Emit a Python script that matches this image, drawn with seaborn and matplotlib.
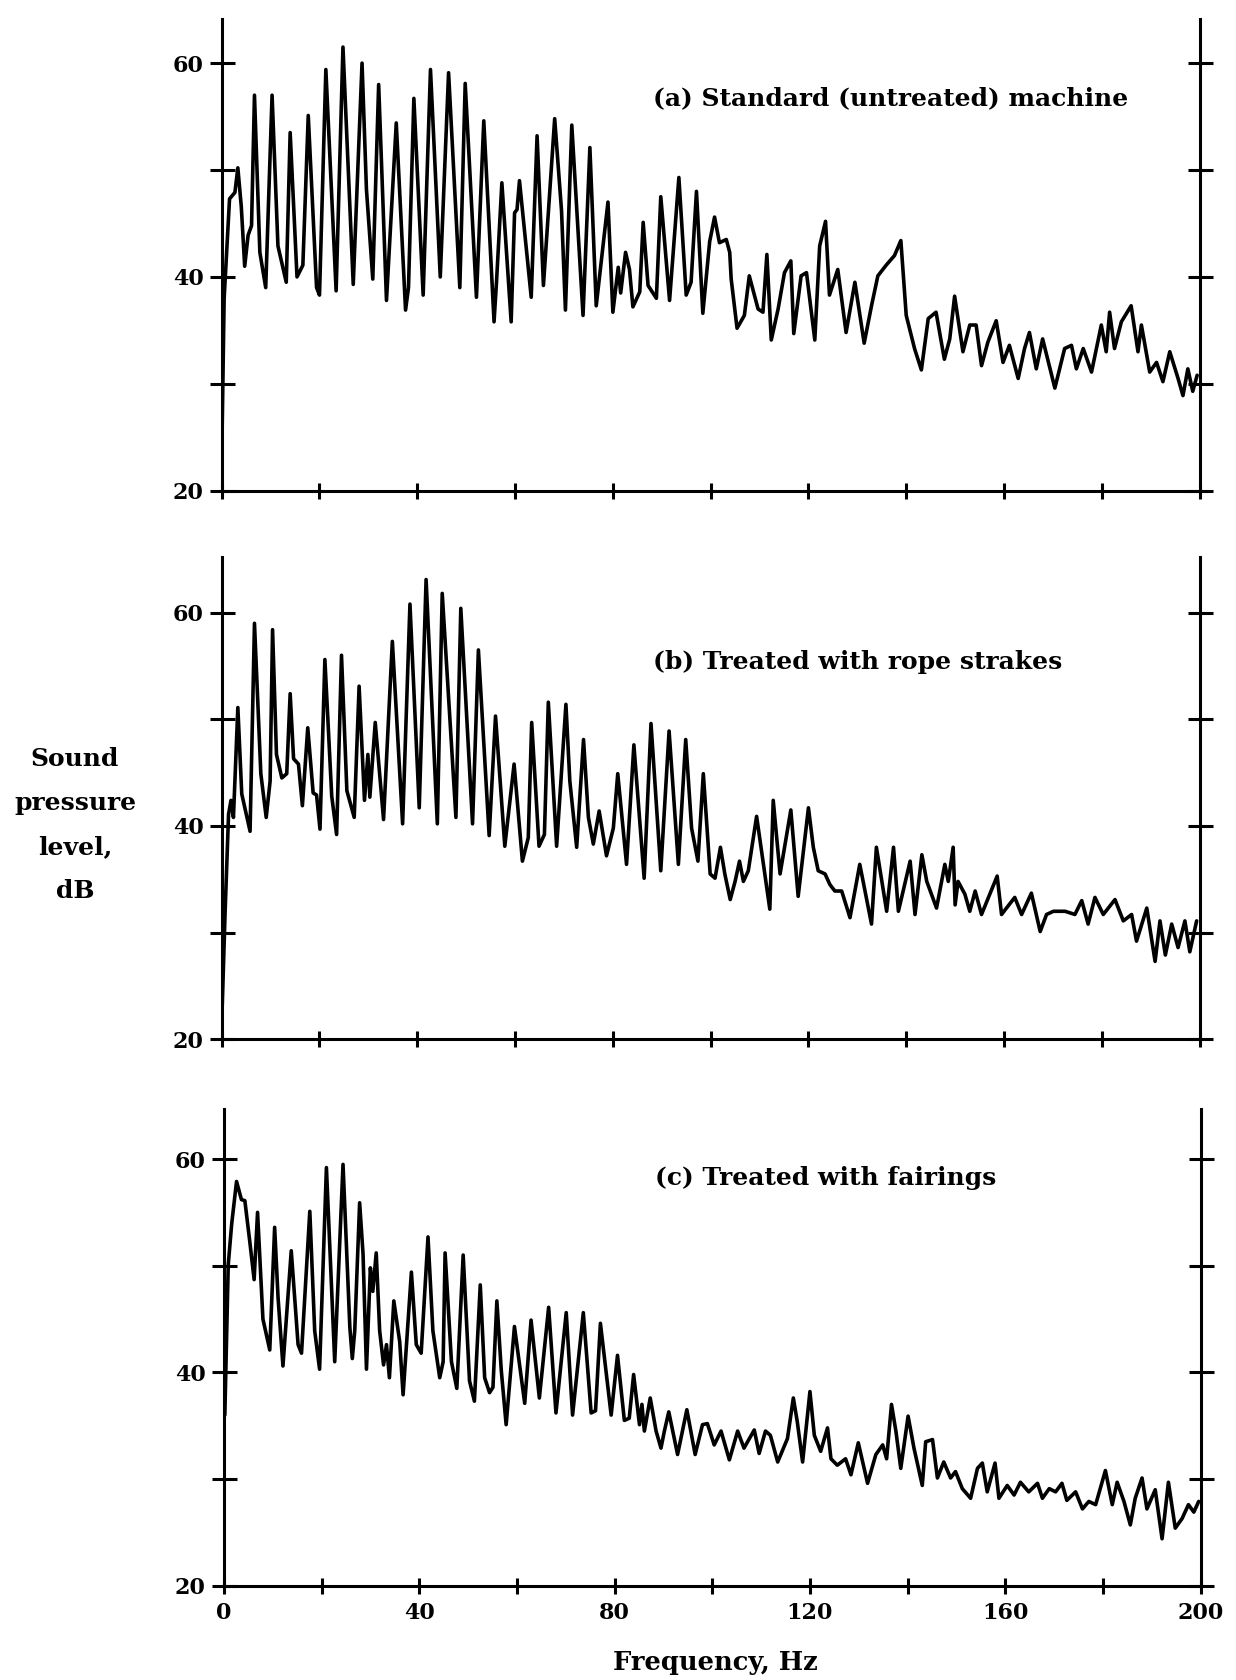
import matplotlib
matplotlib.use("Agg")
import matplotlib.pyplot as plt
import seaborn as sns
import pandas as pd

# ---------------- data ----------------
freq_a = [0.1, 0.5, 1.6, 2.7, 3.3, 4.0, 4.7, 5.4, 6.1, 6.7, 7.8, 9.0, 10.3, 11.5, 13.2, 14.0, 15.4, 16.6,
          17.7, 19.4, 20.0, 21.3, 23.4, 24.8, 26.9, 28.7, 29.6, 30.9, 32.1, 33.7, 35.7, 37.6, 38.2, 39.3,
          41.2, 42.7, 44.7, 46.4, 48.7, 49.8, 52.1, 53.6, 55.7, 56.2, 57.3, 59.2, 59.9, 60.4, 60.9, 63.3,
          64.5, 65.8, 68.1, 69.5, 70.3, 71.6, 73.9, 75.3, 76.6, 79.0, 80.0, 81.1, 81.6, 82.6, 83.4, 84.1,
          85.5, 86.2, 87.2, 88.9, 89.8, 91.6, 93.5, 95.0, 96.0, 97.1, 98.4, 99.8, 100.8, 101.8, 103.2,
          103.9, 104.2, 105.4, 106.9, 107.9, 109.7, 110.7, 111.5, 112.4, 113.8, 115.1, 116.4, 117.0,
          118.5, 119.6, 121.3, 122.3, 123.5, 124.3, 126.0, 127.7, 129.5, 131.4, 132.9, 134.2, 135.9,
          137.6, 138.9, 140.0, 141.7, 143.1, 144.5, 146.1, 147.8, 148.9, 149.9, 151.6, 153.0, 154.3,
          155.4, 156.7, 158.4, 159.8, 161.1, 162.9, 164.2, 165.2, 166.6, 167.9, 170.4, 172.4, 173.8,
          174.8, 176.2, 177.9, 179.9, 180.9, 181.6, 182.6, 184.0, 186.0, 187.4, 188.1, 189.8, 191.2,
          192.5, 193.9, 195.6, 196.6, 197.6, 198.6, 199.5]
spl_a = [26.0, 38.0, 47.3, 47.9, 50.2, 46.6, 41.0, 43.9, 44.8, 57.0, 42.3, 39.0, 57.0, 42.9, 39.5, 53.5, 40.0, 41.1,
         55.1, 39.0, 38.3, 59.4, 38.7, 61.5, 39.3, 60.0, 48.2, 39.8, 58.0, 37.8, 54.4, 36.9, 39.0, 56.7,
         38.3, 59.4, 40.0, 59.1, 39.0, 58.1, 38.1, 54.6, 35.8, 39.5, 48.8, 35.8, 46.0, 46.3, 49.0, 38.1,
         53.2, 39.2, 54.8, 46.2, 36.9, 54.2, 36.4, 52.1, 37.3, 47.0, 36.7, 40.9, 38.5, 42.3, 40.7, 37.2,
         38.6, 45.1, 39.2, 38.0, 47.5, 37.8, 49.3, 38.3, 39.5, 48.0, 36.6, 43.3, 45.6, 43.2, 43.5,
         42.3, 39.8, 35.2, 36.4, 40.1, 37.0, 36.7, 42.1, 34.1, 37.0, 40.4, 41.5, 34.7,
         40.1, 40.4, 34.1, 42.9, 45.2, 38.3, 40.7, 34.8, 39.5, 33.8, 37.3, 40.1, 41.1,
         42.0, 43.4, 36.4, 33.3, 31.3, 36.1, 36.7, 32.3, 34.2, 38.2, 33.0, 35.5, 35.5,
         31.7, 33.9, 35.9, 32.0, 33.6, 30.5, 33.3, 34.8, 31.4, 34.2, 29.6, 33.3, 33.6,
         31.4, 33.3, 31.1, 35.5, 33.0, 36.7, 33.3, 35.8, 37.3, 33.0, 35.5, 31.1, 32.0,
         30.2, 33.0, 30.5, 28.9, 31.4, 29.3, 30.8]

freq_b = [0.1, 0.7, 1.4, 1.9, 2.4, 3.3, 4.1, 5.8, 6.7, 8.0, 9.1, 9.9, 10.4, 11.2, 12.3, 13.3, 14.0, 14.7,
          15.7, 16.5, 17.6, 18.7, 19.4, 20.1, 21.1, 22.5, 23.5, 24.5, 25.6, 27.1, 28.1, 29.2, 29.9, 30.3,
          31.4, 33.1, 34.9, 37.0, 38.5, 40.4, 41.8, 44.1, 45.1, 47.9, 48.9, 51.3, 52.5, 54.7, 56.0, 57.9,
          59.8, 61.5, 62.7, 63.4, 64.9, 66.0, 66.8, 68.5, 70.4, 71.2, 72.6, 74.0, 75.0, 76.0, 77.2, 78.7,
          80.1, 81.0, 82.8, 84.3, 86.4, 87.8, 89.8, 91.5, 93.4, 94.9, 96.1, 97.4, 98.5, 99.9, 100.9,
          102.0, 102.9, 104.0, 105.0, 105.9, 106.7, 107.7, 109.4, 112.1, 112.8, 114.2, 116.4, 117.9,
          120.0, 121.0, 122.0, 123.4, 124.4, 125.4, 126.8, 128.5, 130.5, 132.9, 133.9, 136.0, 137.4,
          138.4, 140.8, 141.8, 143.2, 144.2, 146.2, 147.9, 148.6, 149.6, 150.0, 150.6, 152.0, 153.0,
          154.1, 155.4, 158.6, 159.5, 160.5, 162.2, 163.6, 165.6, 167.4, 168.7, 170.1, 172.5, 174.5,
          175.9, 177.2, 178.6, 180.3, 182.7, 184.4, 186.1, 187.1, 189.2, 190.9, 191.9, 193.0, 194.3,
          195.6, 197.0, 198.0, 199.4]
spl_b = [23.0, 32.0, 41.1, 42.4, 40.8, 51.1, 43.0, 39.5, 59.0, 44.9, 40.8, 44.2, 58.4, 46.7, 44.5, 44.9, 52.4, 46.3,
         45.8, 41.9, 49.2, 43.1, 42.9, 39.7, 55.6, 42.8, 39.2, 56.0, 43.3, 40.8, 53.1, 42.4, 46.7, 42.7,
         49.7, 40.6, 57.3, 40.2, 60.8, 41.7, 63.1, 40.2, 61.8, 40.8, 60.4, 40.2, 56.5, 39.1, 50.3, 38.1,
         45.8, 36.7, 38.9, 49.7, 38.1, 39.2, 51.6, 38.1, 51.4, 44.2, 38.0, 48.1, 40.8, 38.3, 41.4, 37.2,
         39.8, 44.9, 36.4, 47.6, 35.1, 49.6, 35.8, 48.9, 36.4, 48.1, 39.8, 36.7, 44.9, 35.5, 35.1,
         38.0, 35.5, 33.1, 34.8, 36.7, 34.8, 35.8, 40.9, 32.2, 42.4, 35.5, 41.5, 33.4,
         41.7, 38.0, 35.8, 35.5, 34.5, 33.9, 33.9, 31.4, 36.4, 30.8, 38.0, 32.0, 38.0,
         32.0, 36.7, 31.7, 37.3, 34.8, 32.3, 36.4, 34.8, 38.0, 32.6, 34.8, 33.6, 32.0,
         33.9, 31.7, 35.3, 31.7, 32.3, 33.3, 31.7, 33.7, 30.1, 31.7, 32.0, 32.0, 31.7,
         33.0, 30.8, 33.3, 31.7, 33.1, 31.1, 31.7, 29.2, 32.3, 27.3, 31.1, 27.9, 30.8,
         28.6, 31.1, 28.2, 31.1]

freq_c = [0.2, 0.9, 1.6, 2.6, 3.6, 4.3, 5.3, 6.2, 6.9, 8.0, 9.4, 10.4, 11.1, 12.1, 13.8, 15.2, 15.9, 17.6,
          18.6, 19.6, 21.0, 22.7, 24.4, 25.8, 26.3, 26.8, 27.8, 28.5, 29.2, 30.0, 30.5, 31.2, 31.9, 32.7,
          33.3, 33.9, 34.8, 36.0, 36.7, 38.4, 39.4, 40.4, 41.8, 42.8, 44.2, 44.9, 45.3, 46.6, 47.7, 49.0,
          50.3, 51.3, 52.5, 53.4, 54.4, 55.1, 55.9, 56.8, 57.8, 59.5, 61.6, 62.9, 64.6, 66.5, 68.0, 70.1,
          71.4, 73.6, 75.2, 76.1, 77.1, 79.3, 80.6, 82.0, 83.0, 83.9, 85.1, 85.6, 86.1, 87.3, 88.5, 89.5,
          90.2, 91.1, 92.9, 94.8, 96.5, 98.0, 99.0, 100.4, 101.8, 103.5, 105.2, 106.5, 108.6, 109.6,
          110.9, 111.9, 113.4, 115.4, 116.6, 117.4, 118.5, 120.0, 120.9, 122.2, 123.6, 124.3, 125.6,
          127.3, 128.4, 129.9, 131.8, 133.5, 134.9, 135.7, 136.7, 137.6, 138.6, 140.1, 141.3, 143.0,
          143.7, 145.1, 146.1, 147.4, 148.8, 149.8, 151.2, 152.9, 154.3, 155.3, 156.3, 157.9, 158.7,
          160.4, 161.8, 163.1, 164.8, 166.6, 167.6, 169.0, 170.3, 171.6, 172.6, 174.4, 175.8, 177.1,
          178.5, 180.5, 181.9, 182.9, 184.3, 185.6, 186.6, 188.0, 189.0, 190.7, 192.1, 193.4, 194.8,
          196.2, 197.5, 198.6, 199.6]
spl_c = [36.0, 50.1, 53.9, 57.9, 56.2, 56.1, 52.3, 48.7, 55.0, 45.0, 42.1, 53.6, 47.0, 40.6, 51.4, 42.6, 41.8, 55.1,
         43.9, 40.3, 59.2, 41.0, 59.5, 44.2, 41.3, 43.9, 55.9, 51.1, 40.3, 49.8, 47.6, 51.2, 43.9, 40.7,
         42.6, 39.5, 46.7, 42.9, 37.9, 49.4, 42.6, 41.8, 52.7, 43.9, 39.5, 41.0, 51.2, 41.0, 38.5, 51.0,
         39.2, 37.3, 48.2, 39.5, 38.1, 38.6, 46.7, 40.2, 35.1, 44.3, 37.1, 44.9, 37.6, 46.1, 36.2, 45.6,
         36.0, 45.6, 36.2, 36.4, 44.6, 36.0, 41.6, 35.5, 35.7, 39.8, 35.1, 37.0, 34.5, 37.6, 34.5, 32.9,
         34.5, 36.3, 32.3, 36.5, 32.3, 35.1, 35.2, 33.2, 34.5, 31.8, 34.5, 32.9, 34.6, 32.4,
         34.5, 34.1, 31.6, 33.8, 37.6, 35.4, 31.6, 38.2, 34.1, 32.6, 34.8, 31.9, 31.3,
         31.9, 30.4, 33.4, 29.6, 32.3, 33.2, 31.9, 37.0, 34.5, 31.0, 35.9, 32.9, 29.4,
         33.5, 33.7, 30.1, 31.6, 30.1, 30.7, 29.1, 28.2, 31.0, 31.5, 28.8, 31.5, 28.2,
         29.4, 28.5, 29.7, 28.8, 29.6, 28.2, 29.1, 28.8, 29.6, 28.0, 28.8, 27.2, 27.9,
         27.6, 30.8, 27.6, 29.7, 27.9, 25.7, 28.2, 30.1, 27.2, 29.0, 24.4, 29.7, 25.4,
         26.3, 27.6, 26.9, 27.9]

panel_titles = ["(a) Standard (untreated) machine",
                "(b) Treated with rope strakes",
                "(c) Treated with fairings"]
x_ticks = [0, 20, 40, 60, 80, 100, 120, 140, 160, 180, 200]
x_ticklabels = ["0", "", "40", "", "80", "", "120", "", "160", "", "200"]
y_ticks = [20, 30, 40, 50, 60]
y_ticklabels = ["20", "", "40", "", "60"]
x_label = "Frequency, Hz"
y_label = "Sound\npressure\nlevel,\ndB"

# ---------------- figure ----------------
sns.set_style("ticks")
plt.rcParams["font.family"] = ["DejaVu Serif", "DejaVu Sans"]
plt.rcParams["font.weight"] = "bold"
plt.rcParams["text.color"] = "black"
plt.rcParams["axes.labelcolor"] = "black"
plt.rcParams["xtick.color"] = "black"
plt.rcParams["ytick.color"] = "black"

fig = plt.figure(figsize=(12.36, 16.8), dpi=100)

W, H = 1154.0, 1568.0
panels = [
    dict(f=freq_a, s=spl_a, left=207, right=1120, top=18, bottom=458, ymax=64.1, ty=56.7),
    dict(f=freq_b, s=spl_b, left=207, right=1120, top=520, bottom=970, ymax=65.2, ty=55.4),
    dict(f=freq_c, s=spl_c, left=209, right=1121, top=1035, bottom=1480, ymax=64.7, ty=58.2),
]

for i, p in enumerate(panels):
    ax = fig.add_axes([p["left"] / W, 1 - p["bottom"] / H,
                       (p["right"] - p["left"]) / W, (p["bottom"] - p["top"]) / H])
    df = pd.DataFrame({"Frequency": p["f"], "SPL": p["s"]})
    sns.lineplot(data=df, x="Frequency", y="SPL", ax=ax, color="black",
                 linewidth=2.6, estimator=None, sort=False)
    ax.set_xlim(0, 200)
    ax.set_ylim(20, p["ymax"])
    ax.set_xlabel("")
    ax.set_ylabel("")
    for side in ["left", "right", "bottom"]:
        ax.spines[side].set_visible(True)
        ax.spines[side].set_linewidth(2.2)
        ax.spines[side].set_color("black")
    ax.spines["top"].set_visible(False)

    ax.set_xticks(x_ticks)
    ax.set_xticklabels(x_ticklabels if i == 2 else [""] * len(x_ticks))
    ax.set_yticks(y_ticks)
    ax.set_yticklabels(y_ticklabels)
    ax.tick_params(axis="x", direction="inout", length=12, width=2.2, pad=6,
                   labelsize=16, colors="black")
    ax.tick_params(axis="y", direction="inout", length=18, width=2.2, pad=4,
                   labelsize=16, colors="black", right=True, labelright=False)
    for lab in ax.get_xticklabels() + ax.get_yticklabels():
        lab.set_fontweight("bold")

    ax.text(88.3, p["ty"], panel_titles[i], ha="left", va="center",
            fontsize=18, fontweight="bold", color="black")

fig.text(70 / W, 1 - 770 / H, y_label, ha="center", va="center",
         fontsize=18, fontweight="bold", linespacing=2.05, color="black")
fig.text(668 / W, 1 - 1552 / H, x_label, ha="center", va="center",
         fontsize=18.5, fontweight="bold", color="black")

fig.savefig("out.png", dpi=100, facecolor="white")
